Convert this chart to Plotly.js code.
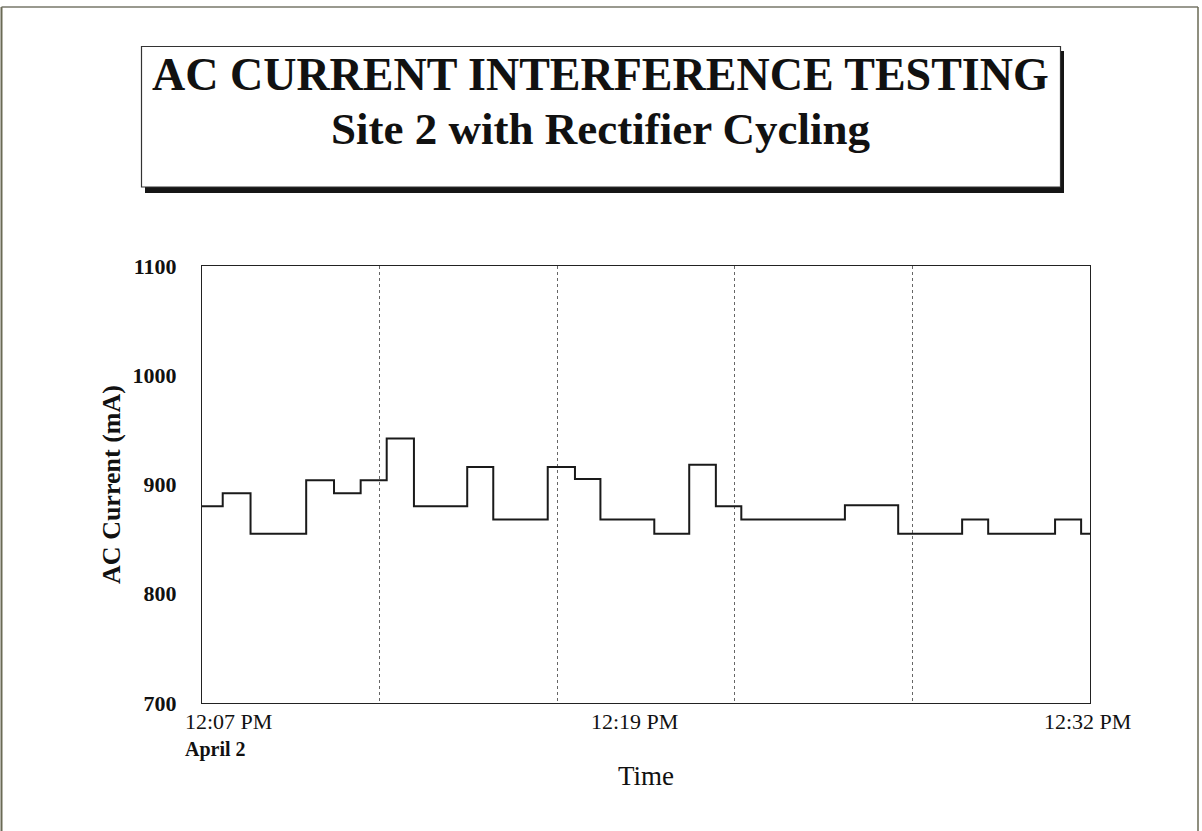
<!DOCTYPE html>
<html>
<head>
<meta charset="utf-8">
<script src="https://cdn.plot.ly/plotly-3.0.1.min.js"></script>
<style>
html,body{margin:0;padding:0;background:#fff;}
#chart{width:1202px;height:831px;}
</style>
</head>
<body>
<div id="chart"></div>
<script>
// Sample times (April 2) when the reading changed, and the reading in mA
const sampleTimes = [
  "2000-04-02 12:07:00", "2000-04-02 12:07:35", "2000-04-02 12:08:22",
  "2000-04-02 12:09:56", "2000-04-02 12:10:43", "2000-04-02 12:11:28",
  "2000-04-02 12:12:12", "2000-04-02 12:12:58", "2000-04-02 12:14:28",
  "2000-04-02 12:15:12", "2000-04-02 12:16:44", "2000-04-02 12:17:30",
  "2000-04-02 12:18:13", "2000-04-02 12:19:44", "2000-04-02 12:20:43",
  "2000-04-02 12:21:28", "2000-04-02 12:22:11", "2000-04-02 12:25:06",
  "2000-04-02 12:26:36", "2000-04-02 12:28:24", "2000-04-02 12:29:08",
  "2000-04-02 12:31:01", "2000-04-02 12:31:45", "2000-04-02 12:32:00"
];
const acCurrent = [
  880, 892, 855,
  904, 892, 904,
  942, 880, 916,
  868, 916, 905,
  868, 855, 918,
  880, 868, 881,
  855, 868, 855,
  868, 855, 855
];
const yTickVals = [700, 800, 900, 1000, 1100];
const xRange = ["2000-04-02 12:07:00", "2000-04-02 12:32:00"];
const xTickVals = ["2000-04-02 12:07:00", "2000-04-02 12:19:00", "2000-04-02 12:32:00"];
const xTickText = ["12:07 PM", "12:19 PM", "12:32 PM"];
const xGridVals = ["2000-04-02 12:12:00", "2000-04-02 12:17:00", "2000-04-02 12:22:00", "2000-04-02 12:27:00"];
const dateLabel = "April 2";
const titleText = "AC CURRENT INTERFERENCE TESTING";
const subtitleText = "Site 2 with Rectifier Cycling";

const serif = "Liberation Serif, Times New Roman, serif";

const trace = {
  x: sampleTimes,
  y: acCurrent,
  type: "scatter",
  mode: "lines",
  line: {shape: "hv", color: "#1a1a1a", width: 2},
  hoverinfo: "x+y"
};

// pixel helpers for paper coordinates (plot area 202..1090 x 266..703)
const L = 202, R = 1090, T = 266, B = 703;
const px = x => (x - L) / (R - L);
const py = y => (B - y) / (B - T);

const xAnchors = ["left", "center", "right"];
const xShifts = [-19, 6, 43];
const annotations = xTickVals.map((v, i) => ({
  x: v, xref: "x", y: 0, yref: "paper",
  text: xTickText[i], showarrow: false,
  xanchor: xAnchors[i], yanchor: "middle",
  xshift: xShifts[i], yshift: -18,
  font: {family: serif, size: 22, color: "#111"}
}));
annotations.push({
  x: xTickVals[0], xref: "x", y: 0, yref: "paper",
  text: "<b>" + dateLabel + "</b>", showarrow: false,
  xanchor: "left", yanchor: "middle", xshift: -19, yshift: -46,
  font: {family: serif, size: 20, color: "#111"}
});
annotations.push({
  x: px(600), xref: "paper", y: py(75), yref: "paper",
  text: "<b>" + titleText + "</b>", showarrow: false,
  xanchor: "center", yanchor: "middle",
  font: {family: serif, size: 46, color: "#111"}
});
annotations.push({
  x: px(601), xref: "paper", y: py(129), yref: "paper",
  text: "<b>" + subtitleText + "</b>", showarrow: false,
  xanchor: "center", yanchor: "middle",
  font: {family: serif, size: 45, color: "#111"}
});

const shapes = [
  // outer frame
  {type: "line", xref: "paper", yref: "paper", x0: px(1.5), x1: px(1.5), y0: py(7), y1: py(840), line: {color: "#6a6a55", width: 2}},
  {type: "line", xref: "paper", yref: "paper", x0: px(1.5), x1: px(1198), y0: py(7), y1: py(7), line: {color: "#77776a", width: 1.5}},
  {type: "line", xref: "paper", yref: "paper", x0: px(1198), x1: px(1198), y0: py(7), y1: py(840), line: {color: "#6a6a55", width: 1.5}},
  // title box shadow
  {type: "rect", xref: "paper", yref: "paper", x0: px(145), x1: px(1064), y0: py(51), y1: py(193), fillcolor: "#151515", line: {width: 0}, layer: "below"},
  // title box
  {type: "rect", xref: "paper", yref: "paper", x0: px(141.5), x1: px(1060.5), y0: py(46.5), y1: py(187), fillcolor: "#ffffff", line: {color: "#333", width: 1.2}, layer: "below"}
];

const layout = {
  width: 1202, height: 831,
  margin: {l: L, r: 1202 - R, t: T, b: 831 - B, pad: 0},
  paper_bgcolor: "#ffffff",
  plot_bgcolor: "#ffffff",
  showlegend: false,
  xaxis: {
    type: "date",
    range: xRange,
    showgrid: false,
    zeroline: false,
    showline: true, mirror: true, linecolor: "#222", linewidth: 1.2,
    showticklabels: false,
    ticks: "",
    tickvals: xTickVals,
    minor: {tickvals: xGridVals, showgrid: true, gridcolor: "#666", griddash: "dot", gridwidth: 1, ticks: ""},
    title: {text: "Time", standoff: 62, font: {family: serif, size: 27, color: "#111"}}
  },
  yaxis: {
    range: [700, 1100],
    tickvals: yTickVals,
    showgrid: false,
    zeroline: false,
    showline: true, mirror: true, linecolor: "#222", linewidth: 1.2,
    ticks: "outside", ticklen: 0,
    ticklabelstandoff: 20,
    tickfont: {family: serif, size: 22, color: "#111", weight: "bold"},
    title: {text: "<b>AC Current (mA)</b>", standoff: 4, font: {family: serif, size: 26, color: "#111"}}
  },
  annotations: annotations,
  shapes: shapes
};

Plotly.newPlot("chart", [trace], layout, {displayModeBar: false});
</script>
</body>
</html>
